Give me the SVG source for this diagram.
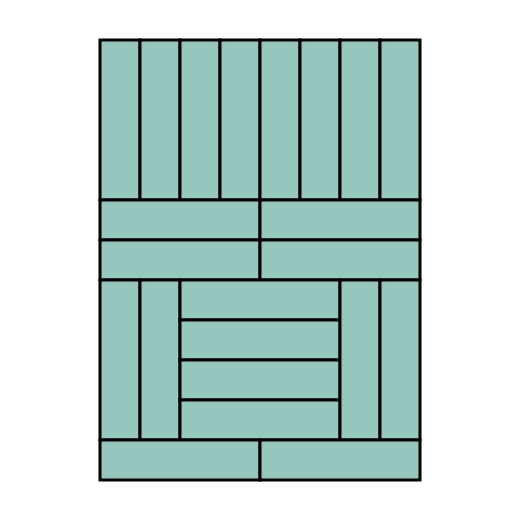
<svg xmlns="http://www.w3.org/2000/svg" width="520" height="520" viewBox="0 0 520 520">
<style>
rect{fill:#95c7be;stroke:#000;stroke-width:3}
</style>
<rect x="0" y="0" width="520" height="520" style="fill:#fff;stroke:none"/>
<g id="top">
<rect x="100" y="40" width="40" height="160"/>
<rect x="140" y="40" width="40" height="160"/>
<rect x="180" y="40" width="40" height="160"/>
<rect x="220" y="40" width="40" height="160"/>
<rect x="260" y="40" width="40" height="160"/>
<rect x="300" y="40" width="40" height="160"/>
<rect x="340" y="40" width="40" height="160"/>
<rect x="380" y="40" width="40" height="160"/>
</g>
<g id="middle">
<rect x="100" y="200" width="160" height="40"/>
<rect x="260" y="200" width="160" height="40"/>
<rect x="100" y="240" width="160" height="40"/>
<rect x="260" y="240" width="160" height="40"/>
</g>
<g id="lower">
<rect x="100" y="280" width="40" height="160"/>
<rect x="140" y="280" width="40" height="160"/>
<rect x="180" y="280" width="160" height="40"/>
<rect x="180" y="320" width="160" height="40"/>
<rect x="180" y="360" width="160" height="40"/>
<rect x="180" y="400" width="160" height="40"/>
<rect x="340" y="280" width="40" height="160"/>
<rect x="380" y="280" width="40" height="160"/>
</g>
<g id="bottom">
<rect x="100" y="440" width="160" height="40"/>
<rect x="260" y="440" width="160" height="40"/>
</g>
</svg>
